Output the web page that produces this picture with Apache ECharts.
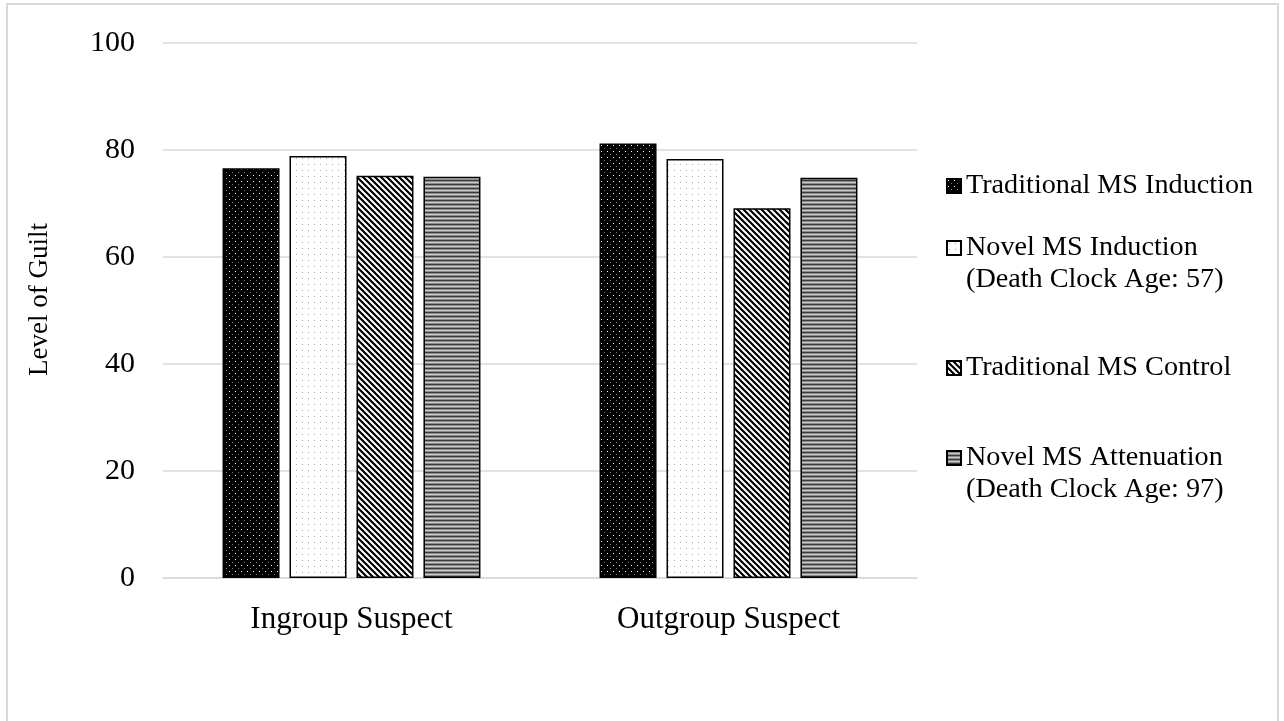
<!DOCTYPE html>
<html>
<head>
<meta charset="utf-8">
<script src="https://cdn.jsdelivr.net/npm/echarts@6/dist/echarts.min.js"></script>
<style>
html,body{margin:0;padding:0;background:#fff;}
#chart{width:1284px;height:721px;}
</style>
</head>
<body>
<div id="chart"></div>
<script>
var categories = ['Ingroup Suspect', 'Outgroup Suspect'];
var seriesNames = [
  'Traditional MS Induction',
  'Novel MS Induction\n(Death Clock Age: 57)',
  'Traditional MS Control',
  'Novel MS Attenuation\n(Death Clock Age: 97)'
];
var tradInduction = [76.6, 81.2];
var novelInduction = [78.9, 78.3];
var tradControl = [75.2, 69.1];
var novelAttenuation = [75.0, 74.8];
var yTicks = [0, 20, 40, 60, 80, 100];

function mk(w, h, draw) {
  var c = document.createElement('canvas');
  c.width = w; c.height = h;
  var ctx = c.getContext('2d');
  draw(ctx, w, h);
  return { image: c, repeat: 'repeat' };
}
var patDarkDots = mk(6, 6, function (ctx, w, h) {
  ctx.fillStyle = '#000'; ctx.fillRect(0, 0, w, h);
  ctx.fillStyle = '#fff'; ctx.fillRect(1, 1, 1, 1);
  ctx.fillStyle = '#777'; ctx.fillRect(4, 4, 1, 1);
});
var patLightDots = mk(6, 6, function (ctx, w, h) {
  ctx.fillStyle = '#fff'; ctx.fillRect(0, 0, w, h);
  ctx.fillStyle = '#aaa'; ctx.fillRect(2, 2, 1, 1);
});
var patDiag = mk(6, 6, function (ctx, w, h) {
  ctx.fillStyle = '#fff'; ctx.fillRect(0, 0, w, h);
  ctx.strokeStyle = '#000'; ctx.lineWidth = 2.2;
  ctx.beginPath();
  ctx.moveTo(-1, -1); ctx.lineTo(w + 1, h + 1);
  ctx.moveTo(-1 - w, -1); ctx.lineTo(1, h + 1);
  ctx.moveTo(w - 1, -1); ctx.lineTo(2 * w + 1, h + 1);
  ctx.stroke();
});
var patHoriz = mk(4, 4, function (ctx, w, h) {
  ctx.fillStyle = '#3a3a3a'; ctx.fillRect(0, 0, w, 1);
  ctx.fillStyle = '#8c8c8c'; ctx.fillRect(0, 1, w, 1);
  ctx.fillStyle = '#c8c8c8'; ctx.fillRect(0, 2, w, 1);
  ctx.fillStyle = '#8c8c8c'; ctx.fillRect(0, 3, w, 1);
});

var values = [tradInduction, novelInduction, tradControl, novelAttenuation];
var patterns = [patDarkDots, patLightDots, patDiag, patHoriz];
var FONT = 'Liberation Serif';

var series = values.map(function (v, i) {
  return {
    name: seriesNames[i],
    type: 'bar',
    data: v,
    barWidth: 57,
    barGap: '17.5%',
    itemStyle: { color: patterns[i], borderColor: '#000', borderWidth: 1.5 },
    emphasis: { disabled: true },
    animation: false
  };
});

var legendTops = [170, 200, 352, 410];
var legends = seriesNames.map(function (n, i) {
  var two = n.indexOf('\n') >= 0;
  return {
    data: [n],
    orient: 'vertical',
    left: 946,
    top: legendTops[i],
    padding: 0,
    icon: 'rect',
    itemWidth: 14,
    itemHeight: 14,
    selectedMode: false,
    formatter: function (name) { return two ? '\n' + name : name; },
    textStyle: { fontFamily: FONT, fontSize: 28.2, color: '#000', lineHeight: 32 }
  };
});

var chart = echarts.init(document.getElementById('chart'));
chart.setOption({
  backgroundColor: '#fff',
  animation: false,
  graphic: [{
    type: 'rect',
    shape: { x: 7, y: 4, width: 1271, height: 730 },
    style: { fill: 'none', stroke: '#d9d9d9', lineWidth: 2 },
    silent: true
  }],
  legend: legends,
  grid: { left: 163, right: 367, top: 43, bottom: 143 },
  xAxis: {
    type: 'category',
    data: categories,
    axisLine: { lineStyle: { color: '#d9d9d9', width: 1.5 } },
    axisTick: { show: false },
    axisLabel: { fontFamily: FONT, fontSize: 31, color: '#000', margin: 26 }
  },
  yAxis: {
    type: 'value',
    min: 0, max: 100, interval: 20,
    name: 'Level of Guilt',
    nameLocation: 'middle',
    nameGap: 110,
    nameTextStyle: { fontFamily: FONT, fontSize: 27, color: '#000', padding: [0, 0, 0, 22] },
    axisLine: { show: false },
    axisTick: { show: false },
    splitLine: { lineStyle: { color: '#d9d9d9', width: 1.5 } },
    axisLabel: {
      fontFamily: FONT, fontSize: 30, color: '#000', margin: 28,
      formatter: function (v) { return yTicks.indexOf(v) >= 0 ? String(v) : ''; }
    }
  },
  series: series
});
</script>
</body>
</html>
